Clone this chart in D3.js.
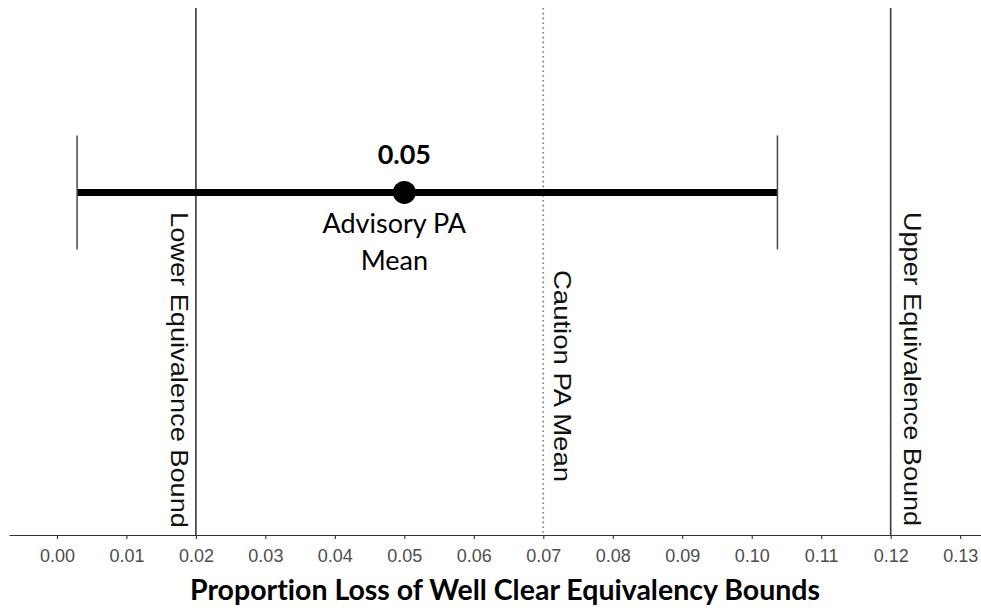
<!DOCTYPE html>
<html>
<head>
<meta charset="utf-8">
<script src="https://cdn.jsdelivr.net/npm/d3@7/dist/d3.min.js"></script>
<style>
  html, body { margin: 0; padding: 0; background: #ffffff; }
  svg { display: block; }
  text { font-variant-ligatures: none; font-feature-settings: "liga" 0, "clig" 0; }
</style>
</head>
<body>
<svg id="chart" width="981" height="612"></svg>
<script>
// Proportion loss of well clear: advisory PA mean with interval,
// caution PA mean and the equivalence bounds.
const tickValues = [0.00, 0.01, 0.02, 0.03, 0.04, 0.05, 0.06, 0.07, 0.08, 0.09, 0.10, 0.11, 0.12, 0.13];
const boundValues = [0.02, 0.12];
const boundLabels = ["Lower Equivalence Bound", "Upper Equivalence Bound"];
const cautionValue = [0.07];
const cautionLabel = ["Caution PA Mean"];
const advisoryMean = [0.05];
const advisoryLower = [0.0029];
const advisoryUpper = [0.1037];
const advisoryLabel = ["Advisory PA", "Mean"];
const xTitle = "Proportion Loss of Well Clear Equivalency Bounds";

const svg = d3.select("#chart");
const W = 981, H = 612;
const panel = { left: 9, right: 981, top: 8, bottom: 535 };

const x = d3.scaleLinear().domain([-0.0069, 0.133]).range([panel.left, panel.right]);
const y = d3.scaleLinear().domain([0, 1]).range([panel.bottom, panel.top]);
const rowY = 0.65;          // vertical position of the advisory interval
const capHalf = 57;         // half height of the interval end caps (px)

svg.append("rect").attr("width", W).attr("height", H).attr("fill", "#ffffff");

// reference lines: equivalence bounds (solid) and caution mean (dotted)
const refs = svg.append("g");
refs.selectAll("line.bound").data(boundValues).join("line")
  .attr("class", "bound")
  .attr("x1", d => x(d)).attr("x2", d => x(d))
  .attr("y1", y(1)).attr("y2", y(0))
  .attr("stroke", "#444444").attr("stroke-width", 1.7);

refs.selectAll("line.caution").data(cautionValue).join("line")
  .attr("class", "caution")
  .attr("x1", d => x(d)).attr("x2", d => x(d))
  .attr("y1", y(1)).attr("y2", y(0))
  .attr("stroke", "#777777").attr("stroke-width", 1.6)
  .attr("stroke-dasharray", "1.6,3.2");

// rotated labels beside the reference lines
const rotLabel = (g, xpos, ytop, text, len) => {
  g.append("text")
    .attr("transform", `translate(${xpos},${ytop}) rotate(90)`)
    .attr("font-family", "Liberation Sans, Arial, sans-serif")
    .attr("font-size", 24)
    .attr("fill", "#111111")
    .attr("textLength", len)
    .attr("lengthAdjust", "spacingAndGlyphs")
    .text(text);
};
const labels = svg.append("g");
rotLabel(labels, x(boundValues[0]) - 25, 212, boundLabels[0], 316);
rotLabel(labels, x(boundValues[1]) + 13, 212, boundLabels[1], 314);
rotLabel(labels, x(cautionValue[0]) + 11, 270, cautionLabel[0], 212);

// advisory interval
const ci = svg.append("g");
ci.append("line")
  .attr("x1", x(advisoryLower[0])).attr("x2", x(advisoryUpper[0]))
  .attr("y1", y(rowY)).attr("y2", y(rowY))
  .attr("stroke", "#000000").attr("stroke-width", 7);
[advisoryLower[0], advisoryUpper[0]].forEach(v => {
  ci.append("line")
    .attr("x1", x(v)).attr("x2", x(v))
    .attr("y1", y(rowY) - capHalf).attr("y2", y(rowY) + capHalf)
    .attr("stroke", "#4a4a4a").attr("stroke-width", 1.5);
});
ci.selectAll("circle").data(advisoryMean).join("circle")
  .attr("cx", d => x(d)).attr("cy", y(rowY)).attr("r", 11.5)
  .attr("fill", "#000000");

ci.append("text")
  .attr("x", x(advisoryMean[0])).attr("y", y(rowY) - 28)
  .attr("text-anchor", "middle")
  .attr("font-family", "Lato, sans-serif").attr("font-weight", 700)
  .attr("font-size", 27).attr("fill", "#000000")
  .text(d3.format(".2f")(advisoryMean[0]));

ci.selectAll("text.lab").data(advisoryLabel).join("text")
  .attr("class", "lab")
  .attr("x", x(advisoryMean[0]) - 10)
  .attr("y", (d, i) => y(rowY) + 41 + i * 37)
  .attr("text-anchor", "middle")
  .attr("font-family", "Lato, sans-serif")
  .attr("font-size", 27).attr("fill", "#000000")
  .text(d => d);

// x axis
const axis = svg.append("g")
  .attr("transform", `translate(0,${panel.bottom})`)
  .call(d3.axisBottom(x).tickValues(tickValues).tickFormat(d3.format(".2f"))
    .tickSize(4).tickSizeOuter(0).tickPadding(10));
axis.select(".domain").attr("stroke", "#333333").attr("stroke-width", 1.2);
axis.selectAll(".tick line").attr("stroke", "#333333").attr("stroke-width", 1.1);
axis.selectAll(".tick text")
  .attr("font-family", "Liberation Sans, Arial, sans-serif")
  .attr("font-size", 18).attr("fill", "#4d4d4d");

svg.append("text")
  .attr("x", 505).attr("y", 600)
  .attr("text-anchor", "middle")
  .attr("font-family", "Lato, sans-serif").attr("font-weight", 700)
  .attr("font-size", 28.5).attr("fill", "#000000")
  .text(xTitle);
</script>
</body>
</html>
